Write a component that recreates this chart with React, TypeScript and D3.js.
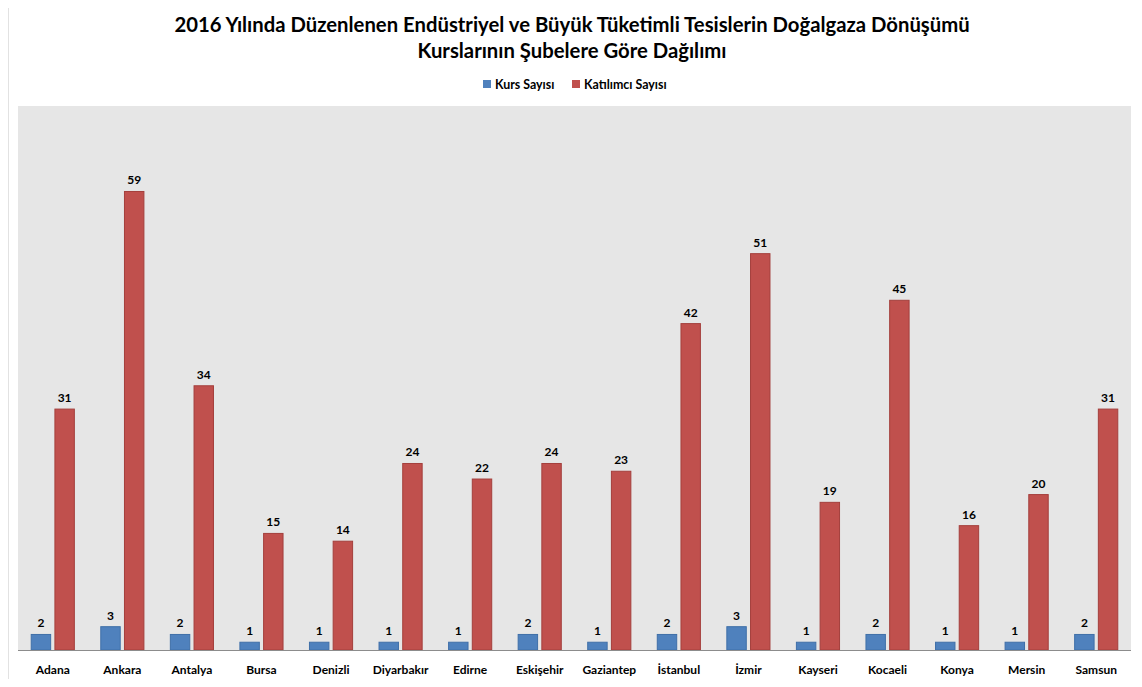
import React, { useEffect, useRef } from "react";
import * as d3 from "d3";

const categories = ["Adana", "Ankara", "Antalya", "Bursa", "Denizli", "Diyarbakır", "Edirne", "Eskişehir", "Gaziantep", "İstanbul", "İzmir", "Kayseri", "Kocaeli", "Konya", "Mersin", "Samsun"];
const kursSayisi = [2, 3, 2, 1, 1, 1, 1, 2, 1, 2, 3, 1, 2, 1, 1, 2];
const katilimciSayisi = [31, 59, 34, 15, 14, 24, 22, 24, 23, 42, 51, 19, 45, 16, 20, 31];
const seriesNames = ["Kurs Sayısı", "Katılımcı Sayısı"];
const seriesColors = ["#4F81BD", "#C0504D"];
const seriesStroke = ["#3F6FA8", "#A43F3C"];
const titleLines = [
  "2016 Yılında Düzenlenen Endüstriyel ve Büyük Tüketimli Tesislerin Doğalgaza Dönüşümü",
  "Kurslarının Şubelere Göre Dağılımı",
];

const W = 1142;
const H = 687;
const font = "Lato, 'Open Sans', sans-serif";

const App = () => {
  const ref = useRef<SVGSVGElement>(null);

  useEffect(() => {
    const svg = d3.select(ref.current);
    svg.selectAll("*").remove();

    // area do grafico
    const plot = { left: 18, right: 1131, top: 106, bottom: 650 };

    // borda externa
    svg.append("rect")
      .attr("x", 7.5).attr("y", 3.5)
      .attr("width", 1133).attr("height", 700)
      .attr("fill", "white").attr("stroke", "#8c8c8c").attr("stroke-width", 1.5);

    svg.append("rect")
      .attr("x", plot.left).attr("y", plot.top)
      .attr("width", plot.right - plot.left).attr("height", plot.bottom - plot.top)
      .attr("fill", "#E6E6E6");

    const x = d3.scaleBand<string>()
      .domain(categories)
      .range([plot.left, plot.right])
      .paddingInner(0.38)
      .paddingOuter(0.19);

    const xs = d3.scaleBand<number>()
      .domain([0, 1])
      .range([0, x.bandwidth()])
      .paddingInner(0.18);

    const y = d3.scaleLinear().domain([0, 70]).range([plot.bottom, plot.top]);

    const data = [kursSayisi, katilimciSayisi];

    data.forEach((vals, si) => {
      const g = svg.append("g");
      g.selectAll("rect")
        .data(vals)
        .join("rect")
        .attr("x", (_, i) => x(categories[i])! + xs(si)!)
        .attr("y", (d) => y(d))
        .attr("width", xs.bandwidth())
        .attr("height", (d) => y(0) - y(d))
        .attr("fill", seriesColors[si])
        .attr("stroke", seriesStroke[si])
        .attr("stroke-width", 1);

      g.selectAll("text")
        .data(vals)
        .join("text")
        .attr("x", (_, i) => x(categories[i])! + xs(si)! + xs.bandwidth() / 2)
        .attr("y", (d) => y(d) - 7)
        .attr("text-anchor", "middle")
        .attr("font-family", font)
        .attr("font-weight", "bold")
        .attr("font-size", 12)
        .attr("fill", "#000")
        .text((d) => d);
    });

    // linha de base
    svg.append("line")
      .attr("x1", plot.left).attr("x2", plot.right)
      .attr("y1", plot.bottom + 0.5).attr("y2", plot.bottom + 0.5)
      .attr("stroke", "#8c8c8c").attr("stroke-width", 1);

    // rotulos das categorias
    svg.append("g")
      .selectAll("text")
      .data(categories)
      .join("text")
      .attr("x", (d) => x(d)! + x.bandwidth() / 2)
      .attr("y", 674)
      .attr("text-anchor", "middle")
      .attr("font-family", font)
      .attr("font-weight", "bold")
      .attr("font-size", 12)
      .text((d) => d);

    // titulo
    svg.append("g")
      .selectAll("text")
      .data(titleLines)
      .join("text")
      .attr("x", 572)
      .attr("y", (_, i) => 32 + i * 26)
      .attr("text-anchor", "middle")
      .attr("font-family", font)
      .attr("font-weight", "bold")
      .attr("font-size", 20.3)
      .text((d) => d);

    // legenda
    const legendX = [483, 572];
    seriesNames.forEach((name, i) => {
      svg.append("rect")
        .attr("x", legendX[i]).attr("y", 80)
        .attr("width", 8).attr("height", 8)
        .attr("fill", seriesColors[i]);
      svg.append("text")
        .attr("x", legendX[i] + 12).attr("y", 88.5)
        .attr("font-family", font)
        .attr("font-weight", "bold")
        .attr("font-size", 12.4)
        .text(name);
    });
  }, []);

  return (
    <div style={{ margin: -8 }}>
      <svg ref={ref} width={W} height={H} style={{ display: "block" }}></svg>
    </div>
  );
};

export default App;
